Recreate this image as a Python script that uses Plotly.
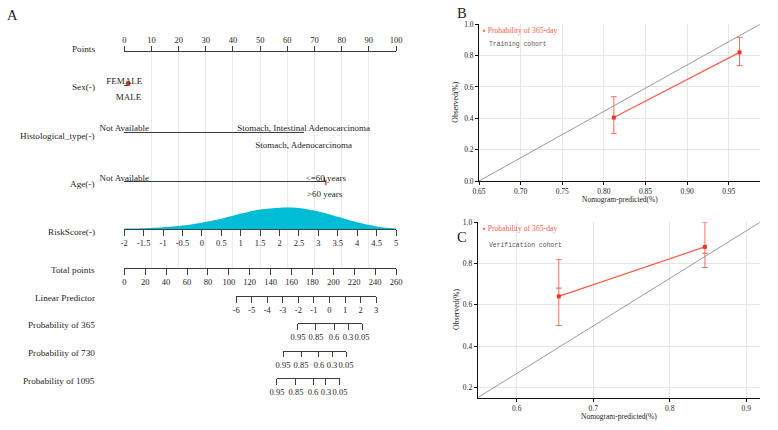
import plotly.graph_objects as go

# ---------------- data ----------------
points_ticks = [0, 10, 20, 30, 40, 50, 60, 70, 80, 90, 100]

sex_levels = ["FEMALE", "MALE"]
sex_points = [0.0, 1.5]

hist_levels = ["Not Available", "Stomach, Intestinal Adenocarcinoma", "Stomach, Adenocarcinoma"]
hist_points = [0.0, 66.0, 66.0]

age_levels = ["Not Available", "<=60 years", ">60 years"]
age_points = [0.0, 74.2, 73.7]

risk_ticks = [-2, -1.5, -1, -0.5, 0, 0.5, 1, 1.5, 2, 2.5, 3, 3.5, 4, 4.5, 5]
risk_grid = [-2, -1.5, -1, -0.5, 0, 0.5, 1, 1.5, 2, 2.25, 2.5, 3, 3.5, 4, 4.5, 5]
risk_density = [0.008, 0.012, 0.024, 0.044, 0.076, 0.120, 0.180, 0.228, 0.248,
                0.252, 0.244, 0.204, 0.144, 0.080, 0.032, 0.008]

total_ticks = [0, 20, 40, 60, 80, 100, 120, 140, 160, 180, 200, 220, 240, 260]

lp_ticks = [-6, -5, -4, -3, -2, -1, 0, 1, 2, 3]
lp_total_points = [107.0, 241.0]          # total points at LP = -6 and LP = 3

prob_labels = ["0.95", "0.85", "0.6", "0.3", "0.05"]
prob365_total = [166.2, 183.4, 200.7, 214.1, 227.5]
prob730_total = [151.9, 169.1, 186.3, 198.8, 212.2]
prob1095_total = [146.1, 164.3, 180.6, 193.0, 206.4]

row_labels = ["Points", "Sex(-)", "Histological_type(-)", "Age(-)", "RiskScore(-)",
              "Total points", "Linear Predictor", "Probability of 365",
              "Probability of 730", "Probability of 1095"]

# calibration, training cohort (B)
train_pred = [0.812, 0.963]
train_obs = [0.405, 0.821]
train_lo = [0.304, 0.736]
train_hi = [0.538, 0.917]
train_ref_x = [0.65, 0.9876]
train_ref_y = [0.0, 1.0]
train_xticks = [0.65, 0.70, 0.75, 0.80, 0.85, 0.90, 0.95]
train_yticks = [0.0, 0.2, 0.4, 0.6, 0.8, 1.0]

# calibration, verification cohort (C)
valid_pred = [0.655, 0.846]
valid_obs = [0.641, 0.881]
valid_lo = [0.500, 0.781]
valid_hi = [0.819, 1.0]
valid_corr = [0.681, 0.850]
valid_ref_x = [0.549, 0.918]
valid_ref_y = [0.15, 1.0]
valid_xticks = [0.6, 0.7, 0.8, 0.9]
valid_yticks = [0.2, 0.4, 0.6, 0.8, 1.0]

legend_text = "Probability of 365-day"
x_title = "Nomogram-predicted(%)"
y_title = "Observed(%)"

# ---------------- layout helpers ----------------
W, H = 778, 430
FONT = "Liberation Serif"
INK = "#3c3c3c"
RED_LINE = "#FF5A4D"
RED_BAR = "#FF6F61"
RED_PT = "#EE3526"


def fx(x):
    return x / W


def fy(y):
    return 1 - y / H


NOMO_LEFT, NOMO_RIGHT = 124.3, 396.0
POINTS_MAX = points_ticks[-1]
TOTAL_MAX = total_ticks[-1]


def pts_x(p):
    return fx(NOMO_LEFT + (NOMO_RIGHT - NOMO_LEFT) * p / POINTS_MAX)


def tot_x(t):
    return pts_x(t / TOTAL_MAX * POINTS_MAX)


def fmt(v):
    return f"{v:g}"


ROW = dict(points=51.7, sex=84.5, hist=131.7, age=181.0, risk=229.3, total=268.3,
           lp=295.7, p365=323.3, p730=350.7, p1095=378.3)
LABEL_Y = [48.7, 87.3, 136.0, 184.0, 232.0, 270.0, 297.7, 325.0, 353.3, 380.7]

layout = {}
traces = []
axis_count = [1]


def add_axis(domain, rng, row_y, tickvals, ticktext, side="bottom", ticks="outside",
             ticklen=5.5, showline=True, standoff=0, size=8.5):
    axis_count[0] += 1
    k = axis_count[0]
    layout[f"xaxis{k}"] = dict(
        domain=domain, range=rng, anchor="free", position=fy(row_y), side=side,
        showline=showline, linecolor=INK, linewidth=1.2,
        ticks=ticks, ticklen=ticklen, tickcolor=INK, tickwidth=1.2,
        tickmode="array", tickvals=tickvals, ticktext=ticktext, tickangle=0,
        showgrid=False, zeroline=False, ticklabelstandoff=standoff, automargin=False,
        tickfont=dict(family=FONT, size=size, color="#1e1e1e"), fixedrange=True,
    )
    traces.append(go.Scatter(x=rng, y=[row_y, row_y], xaxis=f"x{k}", yaxis="y",
                             mode="markers", marker=dict(opacity=0),
                             hoverinfo="skip", showlegend=False))
    return f"x{k}"


def grouped(levels, pts, keep):
    """unique positions with the (joined) labels that sit on one side"""
    uniq = sorted(set(pts))
    text = []
    for u in uniq:
        labs = [lv for lv, p in zip(levels, pts) if p == u and keep(lv)]
        text.append(" / ".join(labs))
    return uniq, text


def categorical_row(levels, pts, row_y, top_set):
    lo, hi = min(pts), max(pts)
    dom = [pts_x(lo), pts_x(hi)]
    bv, bt = grouped(levels, pts, lambda lv: lv not in top_set)
    tv, tt = grouped(levels, pts, lambda lv: lv in top_set)
    add_axis(dom, [lo, hi], row_y, bv, bt, side="bottom",
             ticks="inside", ticklen=4, standoff=4, size=9)
    add_axis(dom, [lo, hi], row_y + 1.5, tv, tt, side="top",
             ticks="", showline=False, size=9)


# ---- Points axis (main, carries the vertical grid) ----
layout["xaxis"] = dict(
    domain=[pts_x(0), pts_x(POINTS_MAX)], range=[0, POINTS_MAX], anchor="y", side="top",
    showline=True, linecolor=INK, linewidth=1.2, ticks="outside", ticklen=4.5,
    tickcolor=INK, tickwidth=1.2, tickmode="array", tickvals=points_ticks,
    ticktext=[fmt(v) for v in points_ticks], tickangle=0, automargin=False,
    showgrid=True, gridcolor="#ebebeb", gridwidth=1, zeroline=False,
    tickfont=dict(family=FONT, size=8.5, color="#1e1e1e"), fixedrange=True,
)
layout["yaxis"] = dict(domain=[fy(ROW["total"]), fy(ROW["points"])],
                       range=[ROW["total"], ROW["points"]], anchor="x", automargin=False,
                       visible=False, showgrid=False, zeroline=False, fixedrange=True)
traces.append(go.Scatter(x=points_ticks, y=[ROW["points"]] * len(points_ticks), mode="markers",
                         marker=dict(opacity=0), hoverinfo="skip", showlegend=False))

# ---- categorical rows ----
categorical_row(sex_levels, sex_points, ROW["sex"], {"FEMALE"})
categorical_row(hist_levels, hist_points, ROW["hist"],
                {"Not Available", "Stomach, Intestinal Adenocarcinoma"})
categorical_row(age_levels, age_points, ROW["age"], {"Not Available", "<=60 years"})

# red reference marks
traces.append(go.Scatter(x=[sex_points[1]], y=[ROW["sex"] - 0.8], mode="markers",
                         marker=dict(color="#E8281E", size=4.5, symbol="circle"),
                         hoverinfo="skip", showlegend=False, cliponaxis=False))
traces.append(go.Scatter(x=[age_points[1]], y=[ROW["age"] + 1.5], mode="markers",
                         marker=dict(color="#C0201A", size=4, symbol="line-ns",
                                     line=dict(color="#C0201A", width=1.2)),
                         hoverinfo="skip", showlegend=False, cliponaxis=False))

# ---- RiskScore axis + density ----
xr = add_axis([pts_x(0), pts_x(POINTS_MAX)], [risk_ticks[0], risk_ticks[-1]], ROW["risk"],
              risk_ticks, [fmt(v) for v in risk_ticks])
layout["yaxis2"] = dict(domain=[fy(ROW["risk"]), fy(ROW["risk"] - 22.0)],
                        range=[0, max(risk_density)], anchor="free", position=0,
                        automargin=False,
                        visible=False, showgrid=False, zeroline=False, fixedrange=True)
traces.append(go.Scatter(x=risk_grid, y=risk_density, xaxis=xr, yaxis="y2", mode="lines",
                         line=dict(color="#00BCD4", width=0, shape="spline", smoothing=0.8),
                         fill="tozeroy", fillcolor="#00BCD4", hoverinfo="skip",
                         showlegend=False))

# ---- Total points ----
add_axis([tot_x(0), tot_x(TOTAL_MAX)], [0, TOTAL_MAX], ROW["total"], total_ticks,
         [fmt(v) for v in total_ticks])

# ---- Linear predictor ----
add_axis([tot_x(lp_total_points[0]), tot_x(lp_total_points[1])],
         [lp_ticks[0], lp_ticks[-1]], ROW["lp"], lp_ticks, [fmt(v) for v in lp_ticks],
         ticklen=6)

# ---- Probability scales ----
for tp, key in [(prob365_total, "p365"), (prob730_total, "p730"), (prob1095_total, "p1095")]:
    add_axis([tot_x(tp[0]), tot_x(tp[-1])], [tp[0], tp[-1]], ROW[key], tp, prob_labels)

# ---------------- calibration panels ----------------
ann = []


def calib_panel(xid, yid, xdom_px, ydom_px, xr_, yr_, xticks, yticks, xfmt, yfmt,
                pred, obs, lo, hi, ref_x, ref_y, corr=None):
    layout[f"xaxis{xid}"] = dict(
        domain=[fx(xdom_px[0]), fx(xdom_px[1])], range=xr_, anchor=f"y{yid}",
        showline=True, linecolor="#111", linewidth=1, ticks="outside", ticklen=3,
        tickcolor="#111", tickmode="array", tickvals=xticks,
        ticktext=[xfmt.format(v) for v in xticks], tickangle=0, automargin=False,
        showgrid=True, gridcolor="#e6e6e6", gridwidth=1, zeroline=False,
        tickfont=dict(family=FONT, size=7.5, color="#222"), fixedrange=True,
    )
    layout[f"yaxis{yid}"] = dict(
        domain=[fy(ydom_px[1]), fy(ydom_px[0])], range=yr_, anchor=f"x{xid}",
        showline=True, linecolor="#111", linewidth=1, ticks="outside", ticklen=3,
        tickcolor="#111", tickmode="array", tickvals=yticks, automargin=False,
        ticktext=[yfmt.format(v) for v in yticks],
        showgrid=True, gridcolor="#e6e6e6", gridwidth=1, zeroline=False,
        tickfont=dict(family=FONT, size=7.5, color="#222"), fixedrange=True,
    )
    # axis titles
    ann.append(dict(text=x_title, x=fx((xdom_px[0] + xdom_px[1]) / 2),
                    y=fy(ydom_px[1] + 18.5), xref="paper", yref="paper",
                    xanchor="center", yanchor="middle", showarrow=False,
                    font=dict(family=FONT, size=7.5, color="#222")))
    ann.append(dict(text=y_title, x=fx(456.0), y=fy((ydom_px[0] + ydom_px[1]) / 2),
                    xref="paper", yref="paper", textangle=-90,
                    xanchor="center", yanchor="middle", showarrow=False,
                    font=dict(family=FONT, size=7.7, color="#222")))
    xa, ya = f"x{xid}", f"y{yid}"
    traces.append(go.Scatter(x=ref_x, y=ref_y, xaxis=xa, yaxis=ya, mode="lines",
                             line=dict(color="#9a9a9a", width=1), hoverinfo="skip",
                             showlegend=False))
    traces.append(go.Scatter(
        x=pred, y=obs, xaxis=xa, yaxis=ya, mode="lines+markers",
        line=dict(color=RED_LINE, width=1.2),
        marker=dict(color=RED_PT, size=4, symbol="square"),
        error_y=dict(type="data", symmetric=False,
                     array=[h - o for h, o in zip(hi, obs)],
                     arrayminus=[o - l for o, l in zip(obs, lo)],
                     color=RED_BAR, thickness=1, width=3),
        cliponaxis=False, hoverinfo="skip", showlegend=False))
    if corr is not None:
        traces.append(go.Scatter(x=pred, y=corr, xaxis=xa, yaxis=ya, mode="markers",
                                 marker=dict(color=RED_BAR, size=4, symbol="line-ew",
                                             line=dict(color=RED_BAR, width=1.2)),
                                 cliponaxis=False, hoverinfo="skip", showlegend=False))


calib_panel(30, 30, (479, 760), (24.3, 181.0), [train_ref_x[0], train_ref_x[1]],
            [train_ref_y[0], train_ref_y[1]], train_xticks, train_yticks,
            "{:.2f}", "{:.1f}", train_pred, train_obs, train_lo, train_hi,
            train_ref_x, train_ref_y)
calib_panel(31, 31, (477.7, 760), (222.3, 397.7), [valid_ref_x[0], valid_ref_x[1]],
            [valid_ref_y[0], valid_ref_y[1]], valid_xticks, valid_yticks,
            "{:.1f}", "{:.1f}", valid_pred, valid_obs, valid_lo, valid_hi,
            valid_ref_x, valid_ref_y, corr=valid_corr)

# ---------------- annotations ----------------
for text, y in zip(row_labels, LABEL_Y):
    ann.append(dict(text=text, x=fx(96.5), y=fy(y), xref="paper", yref="paper",
                    xanchor="right", yanchor="middle", showarrow=False,
                    font=dict(family=FONT, size=9.2, color="#1e1e1e")))
for letter, x, y in [("A", 12.5, 15.5), ("B", 461.5, 12.5), ("C", 461.5, 236.5)]:
    ann.append(dict(text=letter, x=fx(x), y=fy(y), xref="paper", yref="paper",
                    xanchor="center", yanchor="middle", showarrow=False,
                    font=dict(family=FONT, size=14.5, color="#222")))
for y_leg, y_coh, cohort in [(30.0, 44.3, "Training cohort"),
                             (228.7, 245.3, "Verification cohort")]:
    ann.append(dict(text="▪ " + legend_text, x=fx(480.5), y=fy(y_leg), xref="paper",
                    yref="paper", xanchor="left", yanchor="middle", showarrow=False,
                    font=dict(family=FONT, size=7.7, color="#FF5A4D")))
    ann.append(dict(text=cohort, x=fx(486.5), y=fy(y_coh), xref="paper", yref="paper",
                    xanchor="left", yanchor="middle", showarrow=False,
                    font=dict(family="Liberation Mono", size=6.4, color="#555555")))

fig = go.Figure(data=traces)
fig.update_layout(
    template="none",
    width=W, height=H, margin=dict(l=0, r=0, t=0, b=0, pad=0),
    paper_bgcolor="white", plot_bgcolor="rgba(0,0,0,0)",
    font=dict(family=FONT, color="#222"),
    showlegend=False, annotations=ann, **layout,
)
fig.write_html("out.html", config={"displayModeBar": False},
               post_script="document.body.style.margin='0px';")
